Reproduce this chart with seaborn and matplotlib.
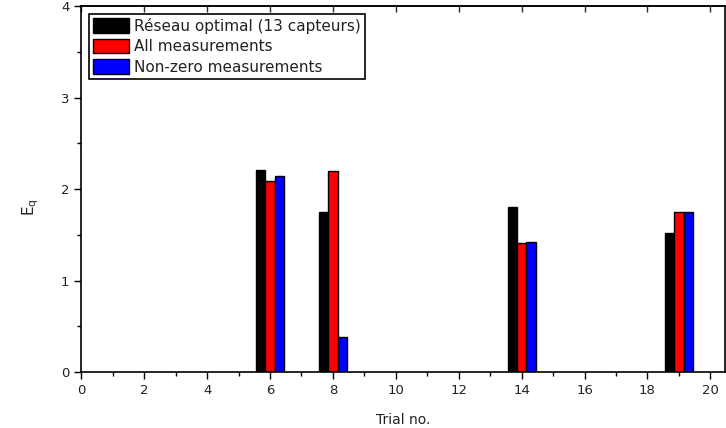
import numpy as np
import pandas as pd
import matplotlib
matplotlib.use("Agg")
import matplotlib.pyplot as plt
from matplotlib.ticker import MultipleLocator
import seaborn as sns

trials = [6, 8, 14, 19]
series = ["Réseau optimal (13 capteurs)", "All measurements", "Non-zero measurements"]
optimal = [2.21, 1.75, 1.80, 1.52]
all_meas = [2.09, 2.20, 1.41, 1.75]
nonzero = [2.14, 0.38, 1.42, 1.75]
colors = ["#000000", "#ff0000", "#0000ff"]

df = pd.DataFrame({
    "trial": trials * 3,
    "Eq": optimal + all_meas + nonzero,
    "series": [s for s in series for _ in trials],
})

sns.set_style("ticks")
plt.rcParams["font.family"] = ["DejaVu Sans"]

fig = plt.figure(figsize=(7.26, 4.28), dpi=100)
ax = fig.add_axes([0.112, 0.131, 0.886, 0.854])

sns.barplot(data=df, x="trial", y="Eq", hue="series", hue_order=series,
            palette=colors, native_scale=True, width=0.45, saturation=1,
            edgecolor="black", linewidth=1, ax=ax)

ax.set_xlim(0, 20.45)
ax.set_ylim(0, 4)
ax.xaxis.set_major_locator(MultipleLocator(2))
ax.xaxis.set_minor_locator(MultipleLocator(1))
ax.yaxis.set_major_locator(MultipleLocator(1))
ax.yaxis.set_minor_locator(MultipleLocator(0.5))
ax.tick_params(which="both", direction="out", labelsize=9.5, width=1,
               color="black", labelcolor="#222222")
ax.tick_params(which="major", length=5)
ax.tick_params(which="minor", length=3)
# top axis: major ticks only, pointing inward
ax2 = ax.secondary_xaxis("top")
ax2.xaxis.set_major_locator(MultipleLocator(2))
ax2.tick_params(direction="in", length=4, width=1, labeltop=False)
for s in ax.spines.values():
    s.set_visible(True)
    s.set_color("black")
    s.set_linewidth(1.2)
ax2.spines["top"].set_linewidth(1.2)

ax.set_xlabel("Trial no.", fontsize=10, labelpad=12, color="#222222")
ax.set_ylabel("E$_\\mathregular{q}$", fontsize=11, color="#222222")
ax.yaxis.set_label_coords(-0.062, 0.45)

leg = ax.legend(loc="upper left", fontsize=11, frameon=True, fancybox=False,
                edgecolor="black", handlelength=2.4, handleheight=1.1,
                handletextpad=0.3, labelspacing=0.32, borderpad=0.25,
                borderaxespad=0.5)
leg.get_frame().set_linewidth(1.2)
leg.get_frame().set_alpha(1)
for t in leg.get_texts():
    t.set_color("#222222")

fig.savefig("out.png", dpi=100)
